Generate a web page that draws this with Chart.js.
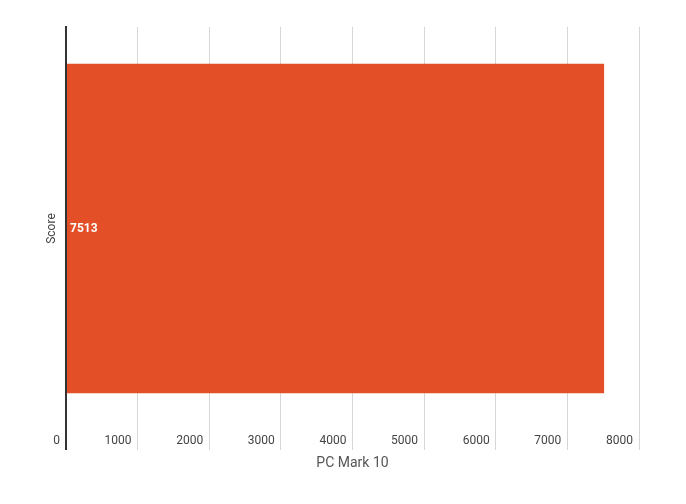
<!DOCTYPE html>
<html>
<head>
<meta charset="utf-8">
<script src="https://cdn.jsdelivr.net/npm/chart.js@4/dist/chart.umd.min.js"></script>
<style>
  html, body { margin: 0; padding: 0; background: #fff; }
  #wrap { width: 686px; height: 504px; }
</style>
</head>
<body>
<div id="wrap"><canvas id="c" width="686" height="504"></canvas></div>
<script>
const categories = ['Score'];
const scoreValues = [7513];
const xTicks = [0, 1000, 2000, 3000, 4000, 5000, 6000, 7000, 8000];
const xTitle = 'PC Mark 10';
const barColor = '#E34F26';

const valueLabelPlugin = {
  id: 'valueLabels',
  afterDatasetsDraw(chart) {
    const ctx = chart.ctx;
    const meta = chart.getDatasetMeta(0);
    ctx.save();
    ctx.font = 'bold 12px Roboto, sans-serif';
    ctx.fillStyle = '#ffffff';
    ctx.textAlign = 'left';
    ctx.textBaseline = 'middle';
    meta.data.forEach((bar, i) => {
      const v = chart.data.datasets[0].data[i];
      ctx.fillText(String(v), bar.base + 3, bar.y);
    });
    ctx.restore();
  }
};

new Chart(document.getElementById('c'), {
  type: 'bar',
  data: {
    labels: categories,
    datasets: [{
      data: scoreValues,
      backgroundColor: barColor,
      borderWidth: 0,
      barPercentage: 0.9,
      categoryPercentage: 0.908
    }]
  },
  options: {
    indexAxis: 'y',
    responsive: false,
    animation: false,
    devicePixelRatio: 1,
    layout: { padding: { top: 27, right: 47, bottom: 25, left: 0 } },
    plugins: { legend: { display: false }, tooltip: { enabled: false } },
    scales: {
      x: {
        type: 'linear',
        min: xTicks[0],
        max: xTicks[xTicks.length - 1],
        afterBuildTicks(scale) { scale.ticks = xTicks.map(v => ({ value: v })); },
        afterFit(scale) { scale.height = 504 - 25 - 430; },
        border: { display: false },
        grid: {
          drawOnChartArea: true,
          drawTicks: true,
          tickLength: 20,
          color: ctx => ctx.tick && ctx.tick.value === 0 ? '#333333' : '#d6d6d6',
          lineWidth: ctx => ctx.tick && ctx.tick.value === 0 ? 2 : 1
        },
        ticks: {
          align: 'end',
          padding: -16,
          color: '#444444',
          font: { family: 'Roboto', size: 12 },
          callback: v => v + '\u2002'
        },
        title: {
          display: true,
          text: xTitle,
          color: '#555555',
          font: { family: 'Roboto', size: 14 },
          padding: { top: 0, bottom: 7 }
        }
      },
      y: {
        afterFit(scale) { scale.width = 66; },
        border: { display: true, color: '#333333', width: 2 },
        grid: { display: false },
        ticks: { display: false },
        title: {
          display: true,
          text: categories[0],
          color: '#444444',
          font: { family: 'Roboto', size: 12 },
          padding: { top: 45, bottom: 0 }
        }
      }
    }
  },
  plugins: [valueLabelPlugin]
});
</script>
</body>
</html>
